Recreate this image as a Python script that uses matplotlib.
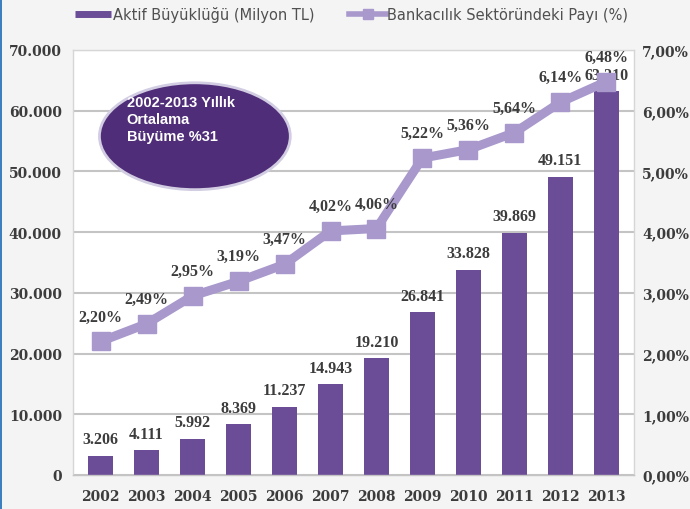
import matplotlib
matplotlib.use("Agg")
import matplotlib.pyplot as plt
from matplotlib.patches import Ellipse, Rectangle
from matplotlib.lines import Line2D
from matplotlib.ticker import FuncFormatter

years = ["2002", "2003", "2004", "2005", "2006", "2007", "2008", "2009", "2010", "2011", "2012", "2013"]
assets = [3206, 4111, 5992, 8369, 11237, 14943, 19210, 26841, 33828, 39869, 49151, 63210]
share = [2.20, 2.49, 2.95, 3.19, 3.47, 4.02, 4.06, 5.22, 5.36, 5.64, 6.14, 6.48]
asset_labels = ["3.206", "4.111", "5.992", "8.369", "11.237", "14.943", "19.210",
                "26.841", "33.828", "39.869", "49.151", "63.210"]
share_labels = ["2,20%", "2,49%", "2,95%", "3,19%", "3,47%", "4,02%", "4,06%",
                "5,22%", "5,36%", "5,64%", "6,14%", "6,48%"]
legend_labels = ["Aktif Büyüklüğü (Milyon TL)", "Bankacılık Sektöründeki Payı (%)"]
callout = "2002-2013 Yıllık\nOrtalama\nBüyüme %31"

BAR_C = "#6b4c96"
LINE_C = "#a898cc"
TXT_C = "#3c3c3c"
SERIF = "DejaVu Serif"
VAL_FONT = "Liberation Serif"

fig = plt.figure(figsize=(6.9, 5.1), dpi=100, facecolor="#f4f4f4")
# thin blue strip on the left edge of the screenshot
fig.patches.append(Rectangle((0, 0), 2 / 690, 1, transform=fig.transFigure,
                             facecolor="#3d7fbf", edgecolor="none"))
ax = fig.add_axes([73 / 690, 34 / 510, 561 / 690, 425 / 510])
ax.set_facecolor("white")
ax2 = ax.twinx()

x = list(range(len(years)))
ax.bar(x, assets, width=0.56, color=BAR_C, zorder=2)
ax.set_ylim(0, 70000)
ax.set_xlim(-0.6, 11.6)
ax.set_yticks(range(0, 70001, 10000))
ax.yaxis.set_major_formatter(FuncFormatter(lambda v, p: f"{int(v):,}".replace(",", ".")))
ax.grid(axis="y", color="#c4c4c4", lw=1.5, zorder=0)
ax.set_axisbelow(True)
ax.set_xticks(x)
ax.set_xticklabels(years, fontfamily=SERIF, fontsize=10, fontweight="bold", color=TXT_C)
for lbl in ax.get_yticklabels():
    lbl.set_fontfamily(SERIF); lbl.set_fontweight("bold"); lbl.set_fontsize(10); lbl.set_color(TXT_C)
ax.tick_params(axis="x", length=0, pad=10)
ax.tick_params(axis="y", length=0, pad=8)
for side, s in ax.spines.items():
    s.set_color("#d6d6d6"); s.set_lw(1)
ax.spines["bottom"].set_color("#c4c4c4")
for s in ax2.spines.values():
    s.set_visible(False)

for i, v in enumerate(assets):
    ax.text(i, v + 1400, asset_labels[i], ha="center", va="bottom", fontfamily=VAL_FONT,
            fontsize=11.5, fontweight="bold", color=TXT_C, zorder=5)

ax2.plot(x, share, color=LINE_C, lw=6.5, marker="s", markersize=13, zorder=3)
ax2.set_ylim(0, 7)
ax2.set_yticks(range(0, 8))
ax2.yaxis.set_major_formatter(FuncFormatter(lambda v, p: f"{v:.2f}%".replace(".", ",")))
for lbl in ax2.get_yticklabels():
    lbl.set_fontfamily(SERIF); lbl.set_fontweight("bold"); lbl.set_fontsize(10); lbl.set_color(TXT_C)
ax2.tick_params(length=0, pad=6)
for i, v in enumerate(share):
    ax2.text(i, v + 0.28, share_labels[i], ha="center", va="bottom", fontfamily=VAL_FONT,
             fontsize=11.5, fontweight="bold", color=TXT_C, zorder=5)

# ellipse callout
ax.add_patch(Ellipse((2.05, 55800), 4.15, 17600, facecolor="#4f2d78", edgecolor="#d2cde2",
                     lw=2, zorder=4))
ax.text(0.57, 58600, callout, ha="left", va="center",
        fontfamily="Liberation Sans", fontsize=10.5, fontweight="bold", color="white",
        linespacing=1.25, zorder=5)

handles = [Line2D([0], [0], color=BAR_C, lw=5, solid_capstyle="butt"),
           Line2D([0], [0], color=LINE_C, lw=4, marker="s", markersize=7)]
fig.legend(handles, legend_labels, loc="upper left", bbox_to_anchor=(75 / 690, 1 - 7 / 510),
           ncol=2, frameon=False, borderpad=0, borderaxespad=0,
           prop={"family": "DejaVu Sans", "size": 10.5}, labelcolor="#505050",
           handlelength=2.5, handletextpad=0.1, columnspacing=2.4)

fig.savefig("out.png", dpi=100, facecolor=fig.get_facecolor())
